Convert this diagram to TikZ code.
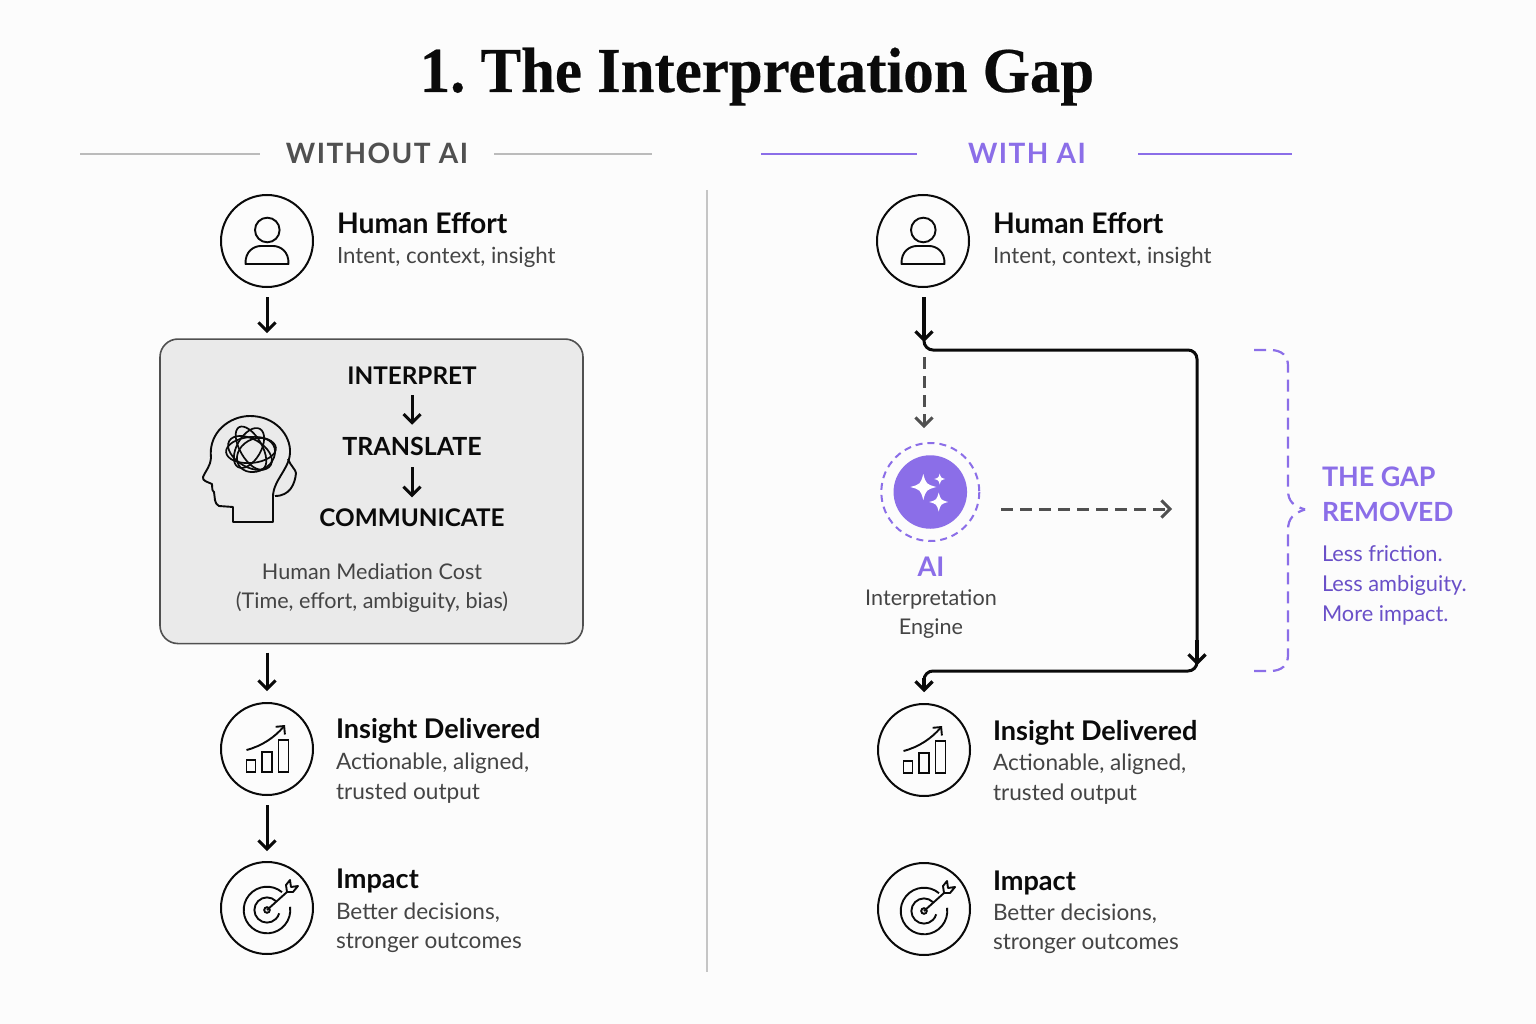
\documentclass[tikz,border=0pt]{standalone}
\usepackage{fontspec}
\setmainfont{Lato}
\newfontfamily\titlefont[FakeStretch=0.95,FakeBold=0.35]{Liberation Serif Bold}
\usetikzlibrary{arrows.meta}
\frenchspacing
\definecolor{bgc}{HTML}{FCFCFC}
\definecolor{ink}{HTML}{0A0A0A}
\definecolor{subc}{HTML}{444444}
\definecolor{grayhead}{HTML}{505050}
\definecolor{grayrule}{HTML}{BBBBBB}
\definecolor{boxfill}{HTML}{EAEAEA}
\definecolor{purp}{HTML}{8B6EE8}
\definecolor{purpd}{HTML}{6A50C8}
\pgfdeclarearrow{
  name=Chev,
  cache=false,
  setup code={
    \pgfarrowssettipend{0pt}
    \pgfarrowssetlineend{-2.5pt}
    \pgfarrowssetbackend{-10pt}
    \pgfarrowssetvisualbackend{-2.5pt}
  },
  drawing code={
    \pgfsetdash{}{0pt}
    \pgfsetmiterjoin
    \pgfsetbuttcap
    \pgfpathmoveto{\pgfpoint{-10.6pt}{8.5pt}}
    \pgfpathlineto{\pgfpoint{-2.1pt}{0pt}}
    \pgfpathlineto{\pgfpoint{-10.6pt}{-8.5pt}}
    \pgfusepathqstroke
  },
  defaults={}
}
\tikzset{
 x=1pt,y=-1pt,
 every node/.style={inner sep=0pt,outer sep=0pt},
 iconcircle/.style={circle,draw=ink,line width=2pt,minimum size=92pt},
 head/.style={anchor=base west,font=\fontsize{27.1}{27.1}\selectfont\bfseries,text=ink},
 headw/.style={anchor=base west,font=\fontsize{28.3}{28.3}\selectfont\bfseries,text=ink},
 sub/.style={anchor=base west,font=\fontsize{22.6}{22.6}\selectfont,text=subc},
 subn/.style={anchor=base west,font=\fontsize{22.3}{22.3}\selectfont,text=subc},
 sect/.style={anchor=base,font=\fontsize{28}{28}\selectfont\bfseries\addfontfeatures{LetterSpace=5}},
 stage/.style={anchor=base,font=\fontsize{24.3}{24.3}\selectfont\bfseries,text=ink},
 capt/.style={anchor=base,font=\fontsize{21.6}{21.6}\selectfont,text=subc},
 arrowk/.style={draw=ink,line width=3pt,-{Chev}},
 arrowt/.style={draw=ink,line width=3.3pt,-{Chev}},
 dashg/.style={draw=grayhead,line width=3pt,dash pattern=on 12pt off 7pt,-{Chev}},
 brace/.style={draw=purp,line width=2.2pt,dash pattern=on 12pt off 7pt},
 gaptext/.style={anchor=base west,font=\fontsize{21.8}{21.8}\selectfont,text=purpd},
 gaphead/.style={anchor=base west,font=\fontsize{26.4}{26.4}\selectfont\bfseries,text=purp},
 icl/.style={draw=ink,line width=1.9pt},
 personicon/.pic={
  \draw[icl] (0.3,-11) circle (12.3);
  \draw[icl,line join=round] (-21.5,23) -- (21.5,23) .. controls (22,10) and (13,5) .. (6,5) -- (-6,5) .. controls (-13,5) and (-22,10) .. (-21.5,23) -- cycle;
 },
 charticon/.pic={
  \draw[icl] (-20.5,11) rectangle (-11.5,23);
  \draw[icl] (-4.7,3) rectangle (4.7,23);
  \draw[icl] (11.5,-9) rectangle (21.5,23);
  \draw[icl,-{Straight Barb[length=6pt,width=12pt]}] (-20.5,1) .. controls (-5,-3) and (8,-12) .. (18,-24);
 },
 targeticon/.pic={
  \draw[icl] (0,2) ++(-50:23.3) arc[start angle=-50,end angle=-368,radius=23.3];
  \draw[icl] (0,2) ++(-45:12.6) arc[start angle=-45,end angle=-345,radius=12.6];
  \draw[icl] (0,2) circle (2.8);
  \draw[icl] (0,2) -- (20,-16);
  \draw[icl,line join=round] (20,-16) -- (19,-23) -- (23,-28) -- (24,-21) -- (31,-22) -- (26,-16) -- (20,-16);
 },
}
\newcommand{\sparkle}[3]{\fill[white] (#1,#2-#3) .. controls (#1+.22*#3,#2-.22*#3) .. (#1+#3,#2) .. controls (#1+.22*#3,#2+.22*#3) .. (#1,#2+#3) .. controls (#1-.22*#3,#2+.22*#3) .. (#1-#3,#2) .. controls (#1-.22*#3,#2-.22*#3) .. (#1,#2-#3) -- cycle;}
\begin{document}
\begin{tikzpicture}
\useasboundingbox (0,0) rectangle (1536,1024);
\fill[bgc] (0,0) rectangle (1536,1024);
% title
\node[anchor=base,font=\titlefont\fontsize{64}{64}\selectfont,text=ink] (title) at (757,92) {1. The Interpretation Gap};
% section headers
\node[sect,text=grayhead] (wo) at (377,164) {WITHOUT AI};
\node[sect,text=purp] (wi) at (1027,164) {WITH AI};
\draw[grayrule,line width=1.5pt] (80,154) -- (260,154);
\draw[grayrule,line width=1.5pt] (494,154) -- (652,154);
\draw[purp,line width=1.8pt] (761,154) -- (917,154);
\draw[purp,line width=1.8pt] (1138,154) -- (1292,154);
\draw[draw=grayrule!85!white,line width=1.3pt] (707,190) -- (707,972);
% LEFT
\node[iconcircle] (hL) at (267,241) {};
\pic at (hL.center) {personicon};
\node[headw] (hLt) at (337,234) {Human Effort};
\node[subn] (hLs) at (337,264) {Intent, context, insight};
\node[draw=grayhead,line width=1.6pt,fill=boxfill,rounded corners=18pt,minimum width=423pt,minimum height=304.5pt] (box) at (371.5,491.3) {};
\node[stage] (interp) at (412,384) {INTERPRET};
\node[stage,font=\fontsize{25}{25}\selectfont\bfseries] (transl) at (412,455) {TRANSLATE};
\node[stage] (commu) at (412,526) {COMMUNICATE};
\draw[arrowk,shorten <=11pt,shorten >=12pt] (interp.south) -- (transl.north);
\draw[arrowk,shorten <=12pt,shorten >=11pt] (transl.south) -- (commu.north);
\node[capt] (c1) at (372,579) {Human Mediation Cost};
\node[capt] (c2) at (372,608) {(Time, effort, ambiguity, bias)};
% head icon
\draw[icl,line join=round,fill=none] (273,522) -- (233,522) -- (233,507) -- (219,506) .. controls (214,504) and (215,497) .. (214,492) .. controls (211,490) and (213,487) .. (212,484) .. controls (208,482) and (202,481) .. (203,477) .. controls (205,472) and (211,465) .. (211,458) .. controls (208,432) and (230,416) .. (250,416) .. controls (275,416) and (291,435) .. (290,453) .. controls (289,470) and (273,480) .. (273,497) -- cycle;
\draw[icl] (288,459) .. controls (290,465) and (296,470) .. (296,473) .. controls (295,484) and (290,496) .. (275,496);
\begin{scope}[shift={(251,450)}]
 \foreach \a/\rx/\ry/\dx/\dy in {5/25/13/0/0,60/22/12/-2/-2,120/24/11/0/-2,30/20/16/5/5,150/24/14/-1/3}{
  \draw[icl,line width=1.7pt,rotate around={\a:(\dx,\dy)}] (\dx,\dy) ellipse[x radius=\rx,y radius=\ry];
 }
\end{scope}
\node[iconcircle] (iL) at (267,749) {};
\pic at (iL.center) {charticon};
\node[head] (iLt) at (336,738) {Insight Delivered};
\node[sub] (iLa) at (336,769) {Actionable, aligned,};
\node[sub] (iLb) at (336,799) {trusted output};
\node[iconcircle] (tL) at (267,908) {};
\pic at (tL.center) {targeticon};
\node[head] (tLt) at (336,888) {Impact};
\node[sub] (tLa) at (336,919) {Better decisions,};
\node[sub] (tLb) at (336,948) {stronger outcomes};
\draw[arrowk,shorten <=10pt,shorten >=6pt] (hL.south) -- (hL.south |- box.north);
\draw[arrowk,shorten <=9pt,shorten >=12pt] (iL.north |- box.south) -- (iL.north);
\draw[arrowk,shorten <=10pt,shorten >=11pt] (iL.south) -- (tL.north);
% RIGHT
\node[iconcircle] (hR) at (923,241) {};
\pic at (hR.center) {personicon};
\node[headw] (hRt) at (993,234) {Human Effort};
\node[subn] (hRs) at (993,264) {Intent, context, insight};
\node[iconcircle] (iR) at (924,750) {};
\pic at (iR.center) {charticon};
\node[head] (iRt) at (993,740) {Insight Delivered};
\node[sub] (iRa) at (993,770) {Actionable, aligned,};
\node[sub] (iRb) at (993,800) {trusted output};
\node[iconcircle] (tR) at (924,909) {};
\pic at (tR.center) {targeticon};
\node[head] (tRt) at (993,890) {Impact};
\node[sub] (tRa) at (993,920) {Better decisions,};
\node[sub] (tRb) at (993,949) {stronger outcomes};
\coordinate (j1) at (924,342);
\draw[arrowt,shorten <=10pt] (hR.south -| j1) -- (j1);
\coordinate (j2) at (1197,350);
\coordinate (j3) at (1197,671);
\coordinate (j4) at (924,671);
\draw[draw=ink,line width=3pt,rounded corners=9pt] (j1) -- (924,350) -- (j2) -- (j3) -- (j4) -- (924,682);
\draw[arrowt,shorten >=12pt] (924,678) -- (iR.north);
\coordinate (j3a) at (1197,665);
\draw[arrowt] (1197,640) -- (j3a);
% AI
\node[circle,fill=purp,minimum size=73.5pt] (ai) at (930.3,492) {};
\draw[purp,line width=2pt,dash pattern=on 7pt off 5pt] (ai) circle (49);
\sparkle{923.3}{487}{13}
\sparkle{938.7}{502}{9.5}
\sparkle{939.7}{479}{5.5}
\node[anchor=base,font=\fontsize{27}{27}\selectfont\bfseries,text=purp] (ait) at (931,576) {AI};
\node[capt] (ai1) at (931,605) {Interpretation};
\node[capt] (ai2) at (931,634) {Engine};
\coordinate (d1) at (924,357);
\coordinate (d2) at (924,428);
\draw[dashg] (d1) -- (d2);
\coordinate (d3) at (1001,509);
\coordinate (dashend) at (1172,509);
\draw[dashg] (d3) -- (dashend);
% brace
\draw[brace] (1254,350) -- (1270,350) .. controls (1282,350) and (1288,356) .. (1288,366) -- (1288,490) .. controls (1288,502) and (1294,506) .. (1305,509.5);
\draw[brace] (1254,671) -- (1270,671) .. controls (1282,671) and (1288,665) .. (1288,655) -- (1288,530) .. controls (1288,518) and (1294,513) .. (1305,509.5);
\node[gaphead,font=\fontsize{26.9}{26.9}\selectfont\bfseries] (g1) at (1322,486) {THE GAP};
\node[gaphead] (g2) at (1322,521) {REMOVED};
\node[gaptext] (g3) at (1322,561) {Less friction.};
\node[gaptext] (g4) at (1322,591) {Less ambiguity.};
\node[gaptext] (g5) at (1322,621) {More impact.};
\end{tikzpicture}
\end{document}
